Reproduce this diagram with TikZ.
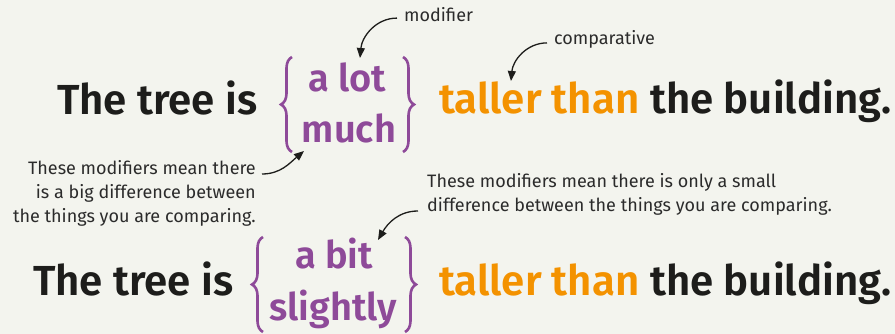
\documentclass[tikz,border=0pt]{standalone}
\usepackage{fontspec}
\setmainfont{Fira Sans}[BoldFont={Fira Sans SemiBold}]
\usetikzlibrary{arrows.meta, positioning, calc, decorations.pathreplacing}
\definecolor{cbg}{HTML}{F3F4EE}
\definecolor{cpurple}{HTML}{8E4A99}
\definecolor{corange}{HTML}{F39200}
\definecolor{cink}{HTML}{1D1D1B}
\definecolor{cnote}{HTML}{2B2B2B}
\tikzset{
  big/.style={font=\fontsize{42}{48}\selectfont\bfseries, text=cink, anchor=base west, inner sep=0pt},
  cmp/.style={big, text=corange},
  mod/.style={font=\fontsize{38}{44}\selectfont\bfseries, text=cpurple, anchor=base, inner sep=0pt},
  brace/.style={decorate, decoration={brace, amplitude=11pt}, draw=cpurple, line width=2.6pt},
  note/.style={font=\fontsize{18}{24}\selectfont, text=cnote, inner sep=0pt},
  pointer/.style={-{Triangle[length=10pt, width=8pt]}, draw=cink, line width=1.3pt},
}
\begin{document}
\begin{tikzpicture}[x=1pt, y=-1pt]
  \useasboundingbox (0,0) rectangle (895,334);
  \fill[cbg] (0,0) rectangle (895,334);
  % first sentence: big difference
  \node[big] (tree1) at (57,115) {The tree is};
  \node[mod] (alot) at (347,92) {a lot};
  \node[mod] (much) at (349,143) {much};
  \node[cmp] (taller1) at (439,114) {taller than};
  \node[big] (bldg1) at (650,114) {the building.};
  \draw[brace] (292,152) -- (292,57);
  \draw[brace] (403,57) -- (403,152);
  % second sentence: small difference
  \node[big] (tree2) at (33,295) {The tree is};
  \node[mod] (abit) at (334,268) {a bit};
  \node[mod] (slightly) at (333,320) {slightly};
  \node[cmp] (taller2) at (439,295) {taller than};
  \node[big] (bldg2) at (650,295) {the building.};
  \draw[brace] (263,332) -- (263,237);
  \draw[brace] (405,237) -- (405,332);
  % notes
  \node[note, anchor=base west] (nmod) at (404,22) {modifier};
  \node[note, anchor=base west] (ncmp) at (554,45) {comparative};
  \node[note, align=right, anchor=north east] (nbig) at (256,160)
    {These modifiers mean there\\is a big difference between\\the things you are comparing.};
  \node[note, align=left, anchor=north west] (nsmall) at (427,173)
    {These modifiers mean there is only a small\\difference between the things you are comparing.};
  \coordinate (tmod) at (360,58);
  \coordinate (tcmp) at (511,81);
  \coordinate (tbig) at (304,151);
  \coordinate (tsmall) at (378,240);
  \draw[pointer] ($(nmod.west)+(-7,3)$) to[out=180, in=85] (tmod);
  \draw[pointer] ($(ncmp.west)+(-7,3)$) to[out=180, in=85] (tcmp);
  \draw[pointer] ($(nbig.north east)+(6,14)$) to[out=0, in=-140] (tbig);
  \draw[pointer] ($(nsmall.north west)+(-9,38)$) to[out=180, in=60] (tsmall);
\end{tikzpicture}
\end{document}
